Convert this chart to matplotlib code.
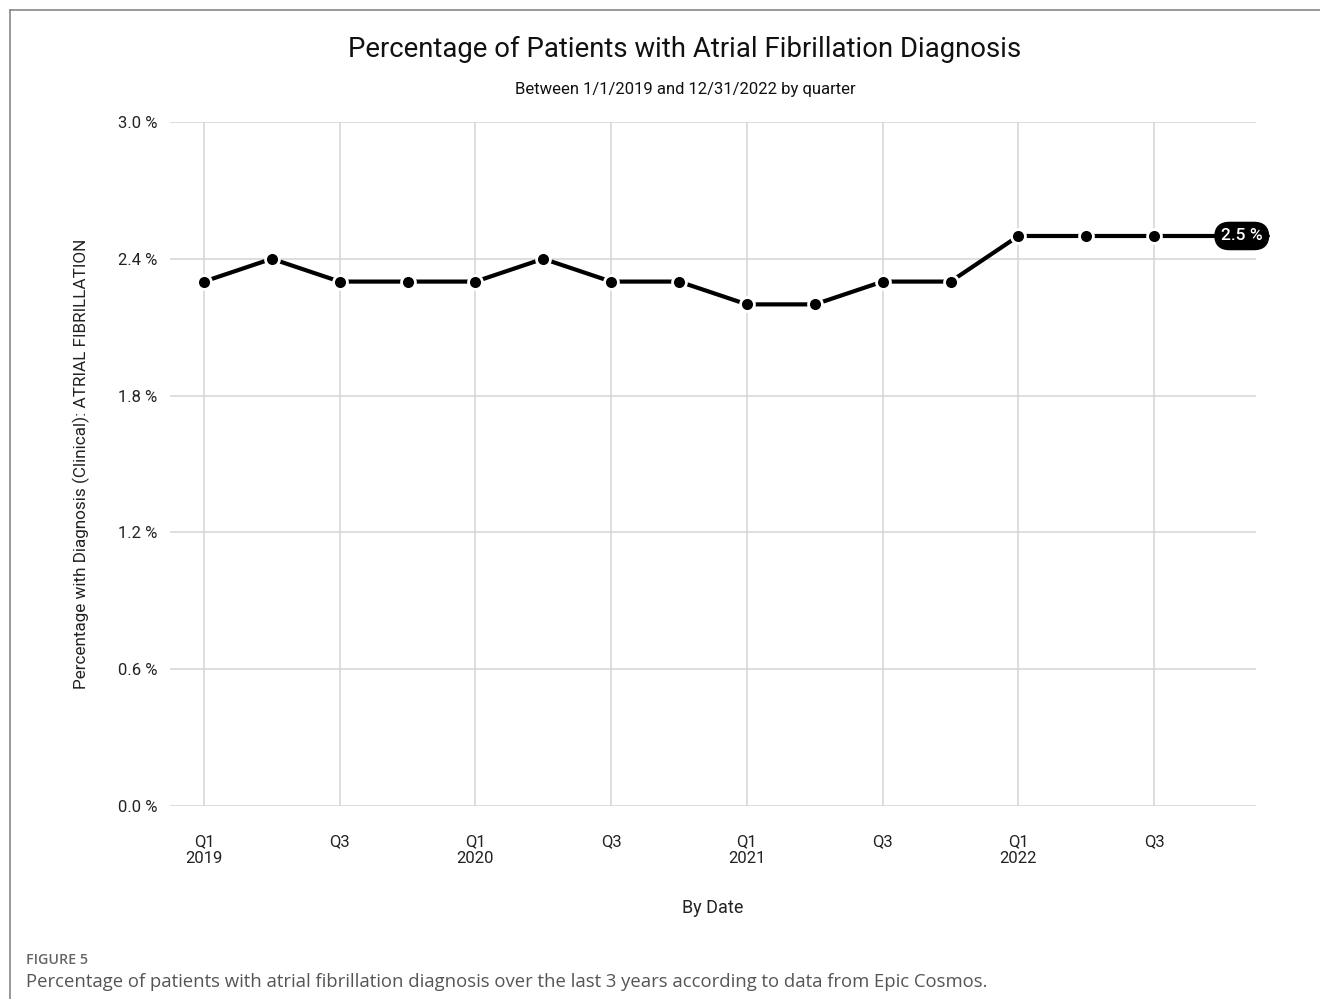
import matplotlib.pyplot as plt
import numpy as np

# data: share of patients with AF diagnosis per quarter (%)
quarters = ['Q1 2019', 'Q2 2019', 'Q3 2019', 'Q4 2019',
            'Q1 2020', 'Q2 2020', 'Q3 2020', 'Q4 2020',
            'Q1 2021', 'Q2 2021', 'Q3 2021', 'Q4 2021',
            'Q1 2022', 'Q2 2022', 'Q3 2022', 'Q4 2022']
pct = [2.3, 2.4, 2.3, 2.3, 2.3, 2.4, 2.3, 2.3, 2.2, 2.2, 2.3, 2.3, 2.5, 2.5, 2.5, 2.5]
tick_labels = ['Q1\n2019', 'Q3', 'Q1\n2020', 'Q3', 'Q1\n2021', 'Q3', 'Q1\n2022', 'Q3']
y_ticks = [0.0, 0.6, 1.2, 1.8, 2.4, 3.0]

fnt = ['Roboto', 'DejaVu Sans']
dark = '#222222'

fig = plt.figure(figsize=(13.2, 9.99), dpi=100)
ax = fig.add_axes([0.1288, 0.1932, 0.8227, 0.6847])

x = np.arange(len(quarters))
ax.plot(x, pct, color='black', lw=3, marker='o', ms=10,
        mfc='black', mec='white', mew=2, zorder=3)

# end label badge
ax.annotate('%.1f %%' % pct[-1], (x[-1], pct[-1]), xytext=(x[-1] + 0.29, pct[-1]),
            ha='center', va='center', color='white', fontsize=12.5, family=fnt,
            weight='medium',
            bbox=dict(boxstyle='round,pad=0.35,rounding_size=0.85', fc='black', ec='black'),
            zorder=4)

ax.set_xlim(-0.5, 15.5)
ax.set_ylim(0, 3.0)
ax.set_xticks(x[::2])
ax.set_xticklabels(tick_labels, family=fnt, fontsize=12, color=dark, linespacing=1.15)
ax.set_yticks(y_ticks)
ax.set_yticklabels(['%.1f %%' % v for v in y_ticks], family=fnt, fontsize=12, color=dark)
ax.tick_params(length=0, pad=9)
ax.tick_params(axis='x', pad=20)
ax.grid(True, color='#d4d4d4', lw=1.1)
ax.set_axisbelow(True)
for s in ax.spines.values():
    s.set_visible(False)

ax.set_xlabel('By Date', family=fnt, fontsize=13, color=dark, labelpad=24)
ax.set_ylabel('Percentage with Diagnosis (Clinical): ATRIAL FIBRILLATION',
              family=fnt, fontsize=12.3, color=dark, labelpad=20)

fig.text(0.519, 0.950, 'Percentage of Patients with Atrial Fibrillation Diagnosis',
         ha='center', va='center', family=fnt, fontsize=19.8, color='#111111')
fig.text(0.519, 0.910, 'Between 1/1/2019 and 12/31/2022 by quarter',
         ha='center', va='center', family=fnt, fontsize=12, color='#111111')

# outer frame (top and left edges only)
fig.add_artist(plt.Line2D([0.0072, 1.0], [0.990, 0.990], color='#888888', lw=1.2))
fig.add_artist(plt.Line2D([0.0072, 0.0072], [0.0, 0.990], color='#888888', lw=1.2))

fig.text(0.0197, 0.039, 'FIGURE 5', ha='left', va='center',
         family=['Open Sans', 'DejaVu Sans'], fontsize=10.3, color='#666666', weight='semibold')
fig.text(0.0197, 0.017, 'Percentage of patients with atrial fibrillation diagnosis over the last 3 years according to data from Epic Cosmos.',
         ha='left', va='center', family=['Open Sans', 'DejaVu Sans'], fontsize=13.3, color='#555555')

fig.savefig('out.png', dpi=100)
